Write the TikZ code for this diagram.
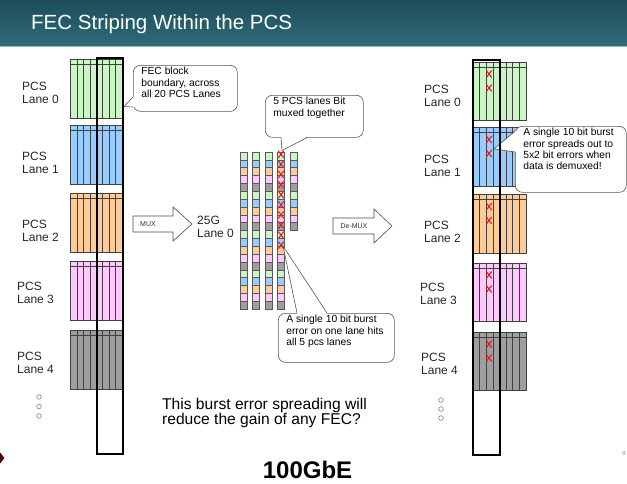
\documentclass[tikz,border=0pt]{standalone}
\usepackage{fontspec}
\setmainfont{Liberation Sans}
\usetikzlibrary{calc}
\definecolor{pcsLane0}{RGB}{204,245,198}
\definecolor{pcsLane1}{RGB}{153,204,255}
\definecolor{pcsLane2}{RGB}{255,204,153}
\definecolor{pcsLane3}{RGB}{255,200,255}
\definecolor{pcsLane4}{RGB}{158,158,158}
\definecolor{barTop}{RGB}{30,76,90}
\definecolor{barBottom}{RGB}{45,108,120}
\definecolor{barEdge}{RGB}{150,185,192}
\definecolor{noteEdge}{RGB}{85,85,85}
\definecolor{errRed}{RGB}{240,25,25}
\tikzset{
    lane/.style={draw=black!75, line width=0.5pt},
    cell/.style={draw=black!65, line width=0.5pt},
    fecbox/.style={draw=black, line width=1.8pt},
    note/.style={draw=noteEdge, fill=white, line width=0.6pt, rounded corners=7pt,
        inner xsep=8pt, inner ysep=2pt, anchor=north west, font=\fontsize{10.3}{11.4}\selectfont},
    pointer/.style={draw=noteEdge, line width=0.6pt, line join=miter},
    lanelabel/.style={anchor=west, align=left, inner sep=0pt, text=black!85,
        font=\fontsize{12}{12.8}\selectfont},
    bigarrow/.style={draw=black!70, fill=white, line width=0.6pt, line join=miter},
    arrowtext/.style={inner sep=0pt, text=black!80, font=\fontsize{7}{7}\selectfont},
    errmark/.style={errRed, line width=1.1pt},
    common settings/.style={x=1pt, y=-1pt}
}

\begin{document}
\begin{tikzpicture}[common settings]

    % Configuration
    \def\laneW{51.5}   % width of one PCS lane block
    \def\laneH{59}     % height of one PCS lane block
    \def\colW{6.44}    % width of one block column
    \def\cellW{7}      % bit cell in the muxed stream
    \def\cellH{7.85}

    \useasboundingbox (0,0) rectangle (627,483);

    % 1. Title bar
    \shade[top color=barTop, bottom color=barBottom] (0,0) rectangle (627,46);
    \draw[barEdge, line width=1pt] (0,46.5) -- (627,46.5);
    \node[anchor=base west, inner sep=0pt, text=white, font=\fontsize{20.5}{22}\selectfont]
        (title) at (31,29) {FEC Striping Within the PCS};

    % 2. PCS lanes before the mux
    \foreach \i/\top in {0/59, 1/125.5, 2/193, 3/261, 4/330} {
        \fill[pcsLane\i] (70.5,\top) rectangle ++(\laneW,\laneH);
        \foreach \k in {1,...,7}
            \draw[lane] (70.5+\k*\colW,\top) -- ++(0,\laneH);
        \draw[lane] (70.5,\top+5) -- ++(\laneW,0);
        \draw[lane] (70.5,\top) rectangle ++(\laneW,\laneH);
    }
    \foreach \i/\x/\y in {0/22/93, 1/22/163, 2/22/231, 3/17/293, 4/17/363}
        \node[lanelabel] (lpcs\i) at (\x,\y) {PCS\\Lane \i};
    \foreach \y in {397,406.5,416}
        \draw[gray, line width=0.6pt] (39,\y) circle (2.3);

    % FEC block boundary
    \draw[fecbox] (97,58) rectangle (123,454);

    \node[note] (fecnote) at (133,65)
        {\parbox[t][42pt][t]{88pt}{FEC block\\boundary, across\\all 20 PCS Lanes}};
    \coordinate (fectip) at (124,106.5);
    \fill[white] ($(fecnote.north west)+(1,32)$) -- (fectip) -- ($(fecnote.north west)+(1,42)$) -- cycle;
    \draw[pointer] ($(fecnote.north west)+(0,32)$) -- (fectip) -- ($(fecnote.north west)+(0,42)$);

    % 3. Mux arrow and the 25G lane
    \draw[bigarrow] (133,216) -- (173,216) -- (173,207) -- (192,224) -- (173,241) -- (173,232) -- (133,232) -- cycle;
    \node[arrowtext] (muxlbl) at (148,224) {MUX};
    \node[lanelabel] (lane25g) at (197,226.5) {25G\\Lane 0};

    \foreach \c in {0,...,4} {
        \pgfmathtruncatemacro{\n}{\c==4 ? 10 : 20}
        \foreach \r in {1,...,\n} {
            \pgfmathtruncatemacro{\m}{mod(\r-1,5)}
            \filldraw[cell, fill=pcsLane\m] (240+12.5*\c,152+\cellH*\r-\cellH) rectangle ++(\cellW,\cellH);
        }
    }
    % 10 bit burst on one lane
    \foreach \k in {0,...,9}
        \draw[errmark] (278.3,150.8+10.1*\k) -- (283.7,157.8+10.1*\k)
                       (278.3,157.8+10.1*\k) -- (283.7,150.8+10.1*\k);

    \node[note] (muxnote) at (265,95)
        {\parbox[t][38pt][t]{82pt}{5 PCS lanes Bit\\muxed together}};
    \coordinate (muxtip) at (282,150.5);
    \fill[white] ($(muxnote.south west)+(16,-1)$) -- (muxtip) -- ($(muxnote.south west)+(42,-1)$) -- cycle;
    \draw[pointer] ($(muxnote.south west)+(16,0)$) -- (muxtip) -- ($(muxnote.south west)+(42,0)$);

    \node[note] (burstnote) at (278,313)
        {\parbox[t][45pt][t]{100pt}{A single 10 bit burst\\error on one lane hits\\all 5 pcs lanes}};
    \coordinate (bursttip) at (283,246);
    \fill[white] ($(burstnote.north west)+(19,1)$) -- (bursttip) -- ($(burstnote.north west)+(49,1)$) -- cycle;
    \draw[pointer] ($(burstnote.north west)+(19,0)$) -- (bursttip) -- ($(burstnote.north west)+(49,0)$);

    % 4. De-mux arrow and the PCS lanes after it
    \draw[bigarrow] (333,218) -- (374,218) -- (374,209) -- (392,226) -- (374,243) -- (374,234) -- (333,234) -- cycle;
    \node[arrowtext] (demuxlbl) at (354,226) {De-MUX};

    \foreach \i/\top in {0/62, 1/127.5, 2/194.5, 3/263, 4/332} {
        \fill[pcsLane\i] (473,\top) rectangle ++(53,58.5);
        \foreach \k in {1,...,7}
            \draw[lane] (473+\k*6.62,\top) -- ++(0,58.5);
        \draw[lane] (473,\top+5) -- ++(53,0);
        \draw[lane] (473,\top) rectangle ++(53,58.5);
    }
    \foreach \i/\x/\y in {0/424/95.5, 1/424/165.5, 2/424/232, 3/420/294, 4/421/364}
        \node[lanelabel] (rpcs\i) at (\x,\y) {PCS\\Lane \i};
    \foreach \y in {400,409,418}
        \draw[gray, line width=0.6pt] (441,\y) circle (2.3);

    \node[note] (spreadnote) at (515,126)
        {\parbox[t][62pt][t]{95pt}{A single 10 bit burst\\error spreads out to\\5x2 bit errors when\\data is demuxed!}};
    \coordinate (spreadtip) at (494,149);
    \fill[white] ($(spreadnote.north west)+(1,5)$) -- (spreadtip) -- ($(spreadnote.north west)+(1,26)$) -- cycle;
    \draw[pointer] ($(spreadnote.north west)+(0,5)$) -- (spreadtip) -- ($(spreadnote.north west)+(0,26)$);

    \draw[fecbox] (473,60) rectangle (500,455);

    % 2 bit errors in every lane
    \foreach \top in {62, 127.5, 194.5, 263, 332}
        \foreach \d in {12,26}
            \draw[errmark] (486.3,\top+\d-3.5) -- (491.7,\top+\d+3.5)
                           (486.3,\top+\d+3.5) -- (491.7,\top+\d-3.5);

    % 5. Question and footer
    \node[anchor=north west, align=left, inner sep=0pt, font=\fontsize{15.6}{14.4}\selectfont]
        (question) at (162,397.5) {This burst error spreading will\\reduce the gain of any FEC?};
    \node[anchor=base, inner sep=0pt, font=\bfseries\fontsize{24}{24}\selectfont]
        (gbe) at (307.5,478.5) {100GbE};
    \node[anchor=east, inner sep=0pt, text=black!45, font=\fontsize{6}{6}\selectfont]
        (pageno) at (626,453) {9};
    \filldraw[fill=red!50!black, draw=black, line width=0.5pt] (0,453) -- (4,458) -- (0,463) -- cycle;

\end{tikzpicture}
\end{document}
